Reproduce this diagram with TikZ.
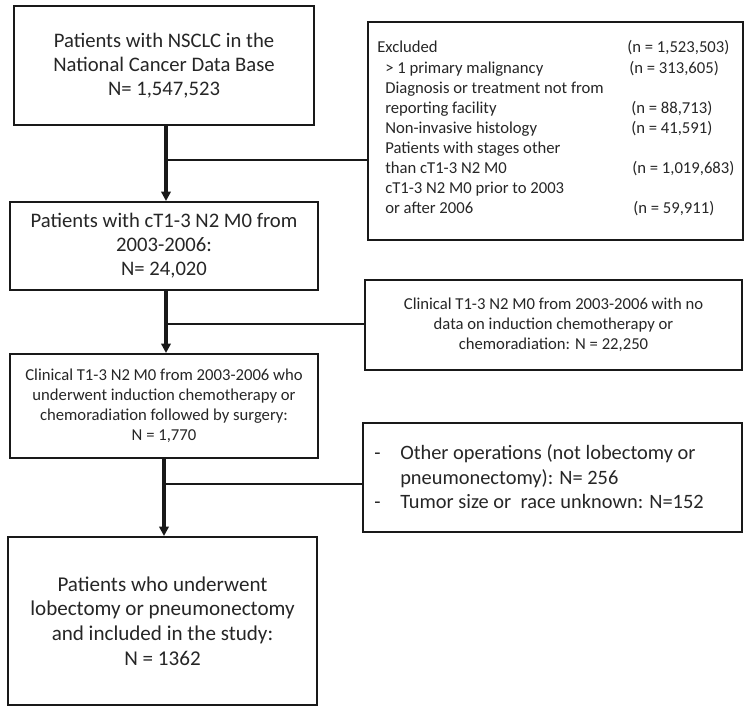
\documentclass[tikz,border=0pt]{standalone}
\usepackage{fontspec}
\setmainfont{Carlito}
\usetikzlibrary{arrows.meta}
\begin{document}
\begin{tikzpicture}[x=0.75pt,y=-0.75pt,
  boxstyle/.style={draw=black!90,line width=1.5pt,rectangle,inner sep=0pt,align=center,text=black!85},
  big/.style={font=\fontsize{15.5pt}{18pt}\selectfont},
  bigger/.style={font=\fontsize{15.8pt}{18.5pt}\selectfont},
  small/.style={font=\fontsize{12.5pt}{15pt}\selectfont},
  flow/.style={line width=2.4pt,draw=black!90,-{Triangle[length=7pt,width=7pt]}},
  branch/.style={line width=1.1pt,draw=black!90},
  exctext/.style={anchor=base west,inner sep=0pt,text=black!85,font=\fontsize{12.5pt}{15pt}\selectfont},
  optext/.style={anchor=base west,inner sep=0pt,text=black!85,font=\fontsize{15.3pt}{18pt}\selectfont}]
\useasboundingbox[fill=white] (0,0) rectangle (750,713);

% main column
\node[boxstyle,big,minimum width=300*0.75pt,minimum height=119*0.75pt] (b1) at (164,65.5)
  {Patients with NSCLC in the\\National Cancer Data Base\\N= 1,547,523};
\node[boxstyle,big,minimum width=308*0.75pt,minimum height=88*0.75pt] (b2) at (164,246)
  {Patients with cT1-3 N2 M0 from\\2003-2006:\\N= 24,020};
\node[boxstyle,small,minimum width=308*0.75pt,minimum height=104*0.75pt] (b3) at (164,406)
  {Clinical T1-3 N2 M0 from 2003-2006 who\\underwent induction chemotherapy or\\chemoradiation followed by surgery:\\N = 1,770};
\node[boxstyle,bigger,minimum width=309*0.75pt,minimum height=168*0.75pt] (b4) at (162.5,621)
  {Patients who underwent\\lobectomy or pneumonectomy\\and included in the study:\\N = 1362};

% side boxes
\node[boxstyle,minimum width=375*0.75pt,minimum height=218*0.75pt] (exc) at (555.5,131) {};
\node[exctext] (e1) at (377,53) {Excluded};
\node[exctext] (e1n) at (627,53) {(n = 1,523,503)};
\node[exctext] (e2) at (385,74) {> 1 primary malignancy};
\node[exctext] (e2n) at (629,74) {(n = 313,605)};
\node[exctext] (e3) at (385,94) {Diagnosis or treatment not from};
\node[exctext] (e4) at (385,114) {reporting facility};
\node[exctext] (e4n) at (631,114) {(n = 88,713)};
\node[exctext] (e5) at (385,134) {Non-invasive histology};
\node[exctext] (e5n) at (631,134) {(n = 41,591)};
\node[exctext] (e6) at (385,154) {Patients with stages other};
\node[exctext] (e7) at (385,174) {than cT1-3 N2 M0};
\node[exctext] (e7n) at (632,174) {(n = 1,019,683)};
\node[exctext] (e8) at (385,194) {cT1-3 N2 M0 prior to 2003};
\node[exctext] (e9) at (385,214) {or after 2006};
\node[exctext] (e9n) at (633,214) {(n = 59,911)};

\node[boxstyle,small,minimum width=377*0.75pt,minimum height=90*0.75pt] (nd) at (553.5,325)
  {Clinical T1-3 N2 M0 from 2003-2006 with no\\data on induction chemotherapy or\\chemoradiation: N = 22,250};

\node[boxstyle,minimum width=379*0.75pt,minimum height=109*0.75pt] (oo) at (552.5,477.5) {};
\node[optext] (o1d) at (374,459) {-};
\node[optext] (o1) at (400,459) {Other operations (not lobectomy or};
\node[optext] (o2) at (400,484) {pneumonectomy): N= 256};
\node[optext] (o3d) at (374,508) {-};
\node[optext] (o3) at (400,508) {Tumor size or\ \ race unknown: N=152};

% connectors
\coordinate (c1) at (166,160);
\coordinate (c2) at (166,324);
\coordinate (c3) at (164,484);
\draw[flow] (b1.south -| c1) -- (b2.north -| c1);
\draw[flow] (b2.south -| c2) -- (b3.north -| c2);
\draw[flow] (b3.south -| c3) -- (b4.north -| c3);
\draw[branch] (c1) -- (c1 -| exc.west);
\draw[branch] (c2) -- (c2 -| nd.west);
\draw[branch] (c3) -- (c3 -| oo.west);
\end{tikzpicture}
\end{document}
